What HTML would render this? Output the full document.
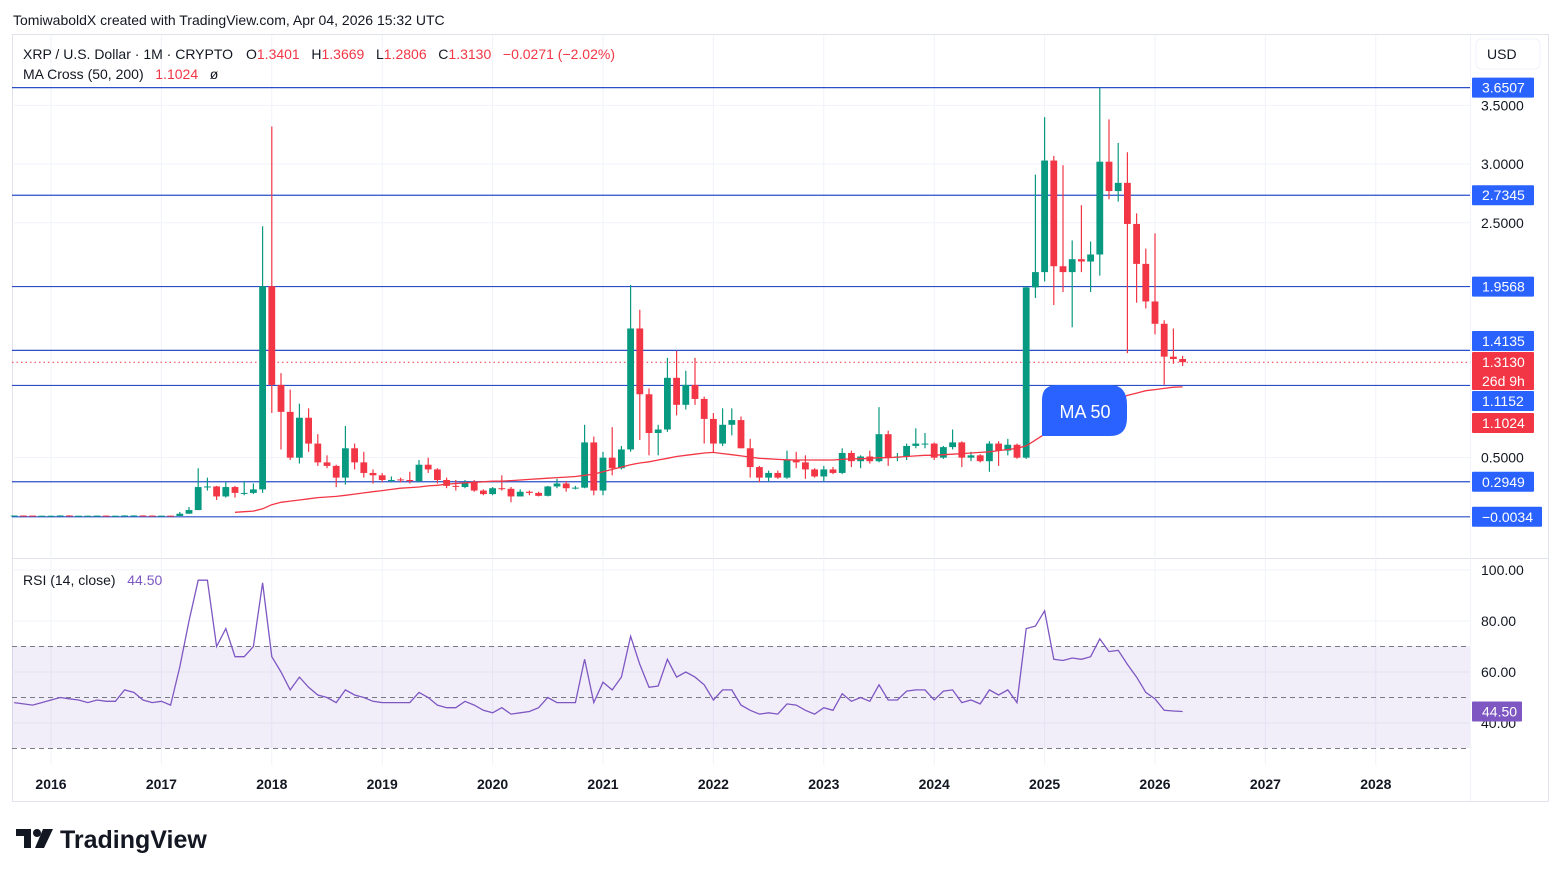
<!DOCTYPE html>
<html><head><meta charset="utf-8">
<style>
body{margin:0;background:#fff;font-family:"Liberation Sans",sans-serif;}
svg text{font-family:"Liberation Sans",sans-serif;white-space:pre;}
</style></head>
<body>
<svg id="chart" width="1561" height="877" viewBox="0 0 1561 877" xmlns="http://www.w3.org/2000/svg" xml:space="preserve">
<rect x="0" y="0" width="1561" height="877" fill="#fff"/>
<text x="13" y="25" font-size="14" fill="#131722">TomiwaboldX created with TradingView.com, Apr 04, 2026 15:32 UTC</text>
<rect x="12.5" y="34.5" width="1536" height="767" fill="none" stroke="#e0e3eb"/>
<line x1="12" y1="558.5" x2="1548" y2="558.5" stroke="#e0e3eb"/>
<line x1="1470.5" y1="35" x2="1470.5" y2="801" stroke="#f0f3fa"/>
<g id="grid"></g>
<rect x="12" y="646" width="1458" height="102" fill="#7e57c2" fill-opacity="0.1"/>
<g id="rsiguides"></g>
<g id="levels"></g>
<g id="candles"></g>
<path id="ma" fill="none" stroke="#f23645" stroke-width="1.3"/>
<path id="rsi" fill="none" stroke="#7e57c2" stroke-width="1.3"/>
<g id="axes"></g>
<g>
<text x="23" y="59" font-size="14" fill="#131722">XRP / U.S. Dollar · 1M · CRYPTO</text>
<text x="246" y="59" font-size="14" fill="#131722">O<tspan fill="#f23645">1.3401</tspan>   H<tspan fill="#f23645">1.3669</tspan>   L<tspan fill="#f23645">1.2806</tspan>   C<tspan fill="#f23645">1.3130   −0.0271 (−2.02%)</tspan></text>
<text x="23" y="79" font-size="14" fill="#131722">MA Cross (50, 200)   <tspan fill="#f23645">1.1024</tspan>   ø</text>
<text x="23" y="585" font-size="14" fill="#131722">RSI (14, close)   <tspan fill="#7e57c2">44.50</tspan></text>
</g>
<rect x="1476" y="39" width="64" height="30" rx="5" fill="#fff" stroke="#f0f3fa"/>
<text x="1487" y="59" font-size="14" fill="#131722">USD</text>
<g>
<path d="M1042 436 L1042 400 Q1042 385 1057 385 L1110 385 Q1127 385 1127 405 L1127 418 Q1127 436 1110 436 Z" fill="#2962ff"/>
<text x="1085" y="418" font-size="18" fill="#fff" text-anchor="middle">MA 50</text>
</g>
<g>
<path d="M16 829 h15 v19 h-7 v-12 h-8 z" fill="#131722"/>
<circle cx="37" cy="833" r="4" fill="#131722"/>
<path d="M43 829 h10 l-9 19 h-9 z" fill="#131722"/>
<text x="60" y="848" font-size="25" font-weight="bold" fill="#131722">TradingView</text>
</g>
</svg>
<script>
const firstMonth = -4; // months relative to Jan 2016
const opens  = [0.0075,0.0075,0.007,0.006,0.006,0.006,0.008,0.006,0.006,0.006,0.007,0.006,0.006,0.008,0.008,0.007,0.006,0.0064,0.0036,0.023,0.054,0.25,0.255,0.17,0.25,0.20,0.20,0.23,1.96,1.12,0.89,0.50,0.84,0.62,0.46,0.43,0.33,0.58,0.46,0.37,0.35,0.305,0.315,0.31,0.30,0.44,0.40,0.31,0.26,0.25,0.29,0.22,0.19,0.24,0.235,0.17,0.21,0.20,0.175,0.255,0.28,0.24,0.245,0.63,0.22,0.50,0.41,0.57,1.60,1.04,0.71,0.74,1.18,0.95,1.12,1.00,0.83,0.62,0.78,0.82,0.58,0.42,0.33,0.37,0.33,0.48,0.46,0.40,0.34,0.40,0.37,0.54,0.47,0.51,0.47,0.70,0.50,0.51,0.60,0.62,0.62,0.50,0.59,0.63,0.50,0.52,0.47,0.62,0.56,0.61,0.50,1.95,2.08,3.03,2.13,2.08,2.19,2.17,2.23,3.02,2.77,2.84,2.49,2.15,1.83,1.64,1.36,1.3401];
const highs  = [0.008,0.008,0.0075,0.007,0.007,0.009,0.009,0.007,0.007,0.008,0.008,0.007,0.009,0.009,0.009,0.008,0.007,0.007,0.038,0.08,0.41,0.33,0.26,0.29,0.26,0.30,0.28,2.47,3.32,1.22,1.08,0.96,0.92,0.70,0.52,0.44,0.77,0.62,0.55,0.40,0.37,0.34,0.33,0.38,0.48,0.50,0.41,0.33,0.31,0.31,0.31,0.23,0.25,0.35,0.25,0.23,0.22,0.21,0.26,0.32,0.30,0.26,0.78,0.68,0.55,0.76,0.60,1.97,1.76,1.09,0.78,1.35,1.41,1.24,1.35,1.02,0.88,0.92,0.92,0.85,0.66,0.43,0.39,0.39,0.56,0.55,0.52,0.41,0.43,0.42,0.58,0.56,0.52,0.56,0.93,0.73,0.54,0.62,0.75,0.71,0.63,0.60,0.74,0.64,0.55,0.53,0.64,0.64,0.66,0.62,1.96,2.91,3.40,3.07,2.99,2.35,2.65,2.34,3.65,3.38,3.18,3.10,2.58,2.28,2.41,1.67,1.60,1.3669];
const lows   = [0.007,0.0068,0.0058,0.0055,0.0055,0.0058,0.0058,0.0055,0.0055,0.0058,0.0058,0.0055,0.0058,0.0075,0.0068,0.0058,0.0058,0.0034,0.0035,0.022,0.053,0.22,0.14,0.16,0.16,0.18,0.19,0.20,0.88,0.57,0.48,0.45,0.55,0.43,0.41,0.25,0.27,0.40,0.33,0.28,0.29,0.29,0.29,0.28,0.29,0.37,0.28,0.24,0.22,0.24,0.21,0.18,0.18,0.22,0.12,0.17,0.18,0.17,0.17,0.24,0.21,0.23,0.24,0.18,0.18,0.35,0.40,0.55,0.65,0.52,0.52,0.72,0.86,0.91,0.95,0.62,0.54,0.60,0.69,0.58,0.33,0.29,0.30,0.32,0.32,0.41,0.32,0.33,0.30,0.36,0.36,0.42,0.41,0.45,0.46,0.43,0.47,0.48,0.58,0.58,0.48,0.49,0.57,0.42,0.47,0.46,0.38,0.43,0.52,0.49,0.49,1.86,2.00,1.80,1.91,1.61,2.08,1.91,2.05,2.70,2.68,1.39,1.82,1.77,1.55,1.12,1.30,1.2806];
const closes = [0.0075,0.007,0.006,0.006,0.006,0.008,0.006,0.006,0.006,0.007,0.006,0.006,0.008,0.008,0.007,0.006,0.0064,0.0036,0.023,0.054,0.25,0.255,0.17,0.25,0.20,0.20,0.23,1.96,1.12,0.89,0.50,0.84,0.62,0.46,0.43,0.33,0.58,0.46,0.37,0.35,0.31,0.31,0.31,0.30,0.44,0.40,0.31,0.26,0.255,0.29,0.22,0.19,0.24,0.235,0.17,0.21,0.20,0.175,0.255,0.28,0.24,0.245,0.63,0.22,0.50,0.41,0.57,1.60,1.04,0.71,0.74,1.18,0.95,1.12,1.00,0.83,0.62,0.78,0.82,0.58,0.42,0.33,0.37,0.33,0.48,0.46,0.40,0.34,0.40,0.37,0.54,0.47,0.51,0.47,0.70,0.50,0.51,0.60,0.62,0.62,0.50,0.59,0.63,0.50,0.52,0.47,0.62,0.56,0.61,0.50,1.95,2.08,3.03,2.13,2.08,2.19,2.17,2.23,3.02,2.77,2.84,2.49,2.15,1.83,1.64,1.36,1.34,1.3130];
const maFirstMonth = 20;
const ma50 = [0.035,0.04,0.045,0.065,0.10,0.12,0.13,0.14,0.15,0.16,0.165,0.17,0.18,0.19,0.20,0.21,0.22,0.23,0.24,0.245,0.25,0.26,0.265,0.275,0.28,0.285,0.29,0.295,0.30,0.30,0.305,0.31,0.315,0.32,0.325,0.33,0.335,0.34,0.35,0.36,0.38,0.40,0.42,0.44,0.455,0.465,0.48,0.495,0.51,0.52,0.53,0.54,0.545,0.535,0.525,0.515,0.505,0.495,0.49,0.485,0.482,0.48,0.48,0.48,0.48,0.48,0.485,0.49,0.49,0.495,0.50,0.50,0.505,0.51,0.515,0.52,0.52,0.525,0.53,0.535,0.54,0.545,0.55,0.56,0.57,0.58,0.60,0.65,0.70,0.75,0.80,0.83,0.86,0.89,0.93,0.97,1.00,1.03,1.05,1.07,1.08,1.09,1.10,1.1024];
const rsiValues = [48,47.5,47,48,49,50,49.5,49,48,49,48.5,48.5,53,52,49,48,48.5,47,62,80,96,96,70,77,66,66,70,95,66,60,53,58,54,51,50,48,53,51,50,48.5,48,48,48,48,52,50,47,46,46,48.5,47,45,44,46,43.5,44,44.5,46,50,48,48,48,65,48,56,53,58,74,63,54,54.5,65,58,60,58,55,49,53,53,47,45,43.5,44,43.5,47.5,47,45,43.5,46,45,51.5,48.5,50,48.5,55,49,49,52.5,53,53,49,52.5,53,48,49,47.5,53,51,53,48,77,78,84,65,64.5,65.5,65,66,73,68,68.5,63,58,52,49.5,45,44.7,44.5];
const levelPrices = [3.6507,2.7345,1.9568,1.4135,1.1152,0.2949,-0.0034];
const priceTicks = [3.5,3.0,2.5,0.5];
const rsiTicks = [100,80,60,40];
const yearLabels = ["2016","2017","2018","2019","2020","2021","2022","2023","2024","2025","2026","2027","2028"];

const NS="http://www.w3.org/2000/svg";
const xOf = m => 51 + 9.2*m;
const yP = p => 516.4 - 117.45*p;
const yR = r => 825 - 2.55*r;
function mk(tag, attrs, parent){const e=document.createElementNS(NS,tag);for(const k in attrs)e.setAttribute(k,attrs[k]);parent.appendChild(e);return e;}
const grid=document.getElementById('grid'), axes=document.getElementById('axes');
yearLabels.forEach((lab,i)=>{
  const x=xOf(i*12);
  const l=mk('line',{x1:x,y1:35,x2:x,y2:765,stroke:'#f0f3fa'},grid);
  
  
  const t=mk('text',{x:x,y:789,'font-size':14,'font-weight':'bold','text-anchor':'middle',fill:'#131722'},axes);
  t.textContent=lab;
  
  
});
priceTicks.forEach(p=>{
  const l=mk('line',{x1:12,y1:yP(p),x2:1470,y2:yP(p),stroke:'#f0f3fa'},grid);
  
  
  const t=mk('text',{x:1481,y:yP(p)+5,'font-size':14,fill:'#131722'},axes);
  t.textContent=p.toFixed(4);
  
  
});
rsiTicks.forEach(r=>{
  const l=mk('line',{x1:12,y1:yR(r),x2:1470,y2:yR(r),stroke:'#f0f3fa'},grid);
  
  
  const t=mk('text',{x:1481,y:yR(r)+5,'font-size':14,fill:'#131722'},axes);
  t.textContent=r.toFixed(2);
  
  
});
const rg=document.getElementById('rsiguides');
[70,50,30].forEach(r=>{
  const l=mk('line',{x1:12,y1:yR(r),x2:1470,y2:yR(r),stroke:'#787b86','stroke-dasharray':'5,4','stroke-width':1},rg);
  
  
});
const lv=document.getElementById('levels');
levelPrices.forEach(p=>{
  const l=mk('line',{x1:12,y1:yP(p),x2:1470,y2:yP(p),stroke:'#2a4fc9','stroke-width':1.2},lv);
  
  
});
const lastClose=closes[closes.length-1];
const dl=mk('line',{x1:12,y1:yP(lastClose),x2:1470,y2:yP(lastClose),stroke:'#f23645','stroke-dasharray':'1.5,3'},lv);


const cg=document.getElementById('candles');
closes.forEach((c,i)=>{
  const m=firstMonth+i, x=xOf(m), o=opens[i], h=highs[i], lo=lows[i];
  const col=c>=o?'#089981':'#f23645';
  const g=mk('g',{},cg);
  
  
  mk('line',{x1:x,y1:yP(h),x2:x,y2:yP(lo),stroke:col,'stroke-width':1.2},g);
  const top=Math.min(yP(o),yP(c)), bh=Math.max(1,Math.abs(yP(o)-yP(c)));
  mk('rect',{x:x-3.4,y:top,width:6.8,height:bh,fill:col},g);
});
let d='';
ma50.forEach((v,i)=>{d+=(i?'L':'M')+xOf(maFirstMonth+i).toFixed(1)+' '+yP(v).toFixed(1);});
document.getElementById('ma').setAttribute('d',d);
d='';
rsiValues.forEach((v,i)=>{d+=(i?'L':'M')+xOf(firstMonth+i).toFixed(1)+' '+yR(v).toFixed(1);});
document.getElementById('rsi').setAttribute('d',d);
function badge(y,text,fill,name,h,w,text2){
  const g=mk('g',{},axes);
  
  
  const hh=h||20;
  mk('rect',{x:1472,y:y-10,width:w||62,height:hh,fill:fill,rx:1},g);
  const t=mk('text',{x:1482,y:y+5,'font-size':14,fill:'#fff'},g);t.textContent=text;
  if(text2){const t2=mk('text',{x:1482,y:y+24,'font-size':14,fill:'#fff'},g);t2.textContent=text2;}
}
// axis label positions avoid overlap like TradingView
const labelY = p => {
  if (Math.abs(p-1.4135)<1e-6) return 341;
  if (Math.abs(p-1.1152)<1e-6) return 401;
  return yP(p);
};
levelPrices.forEach(p=>{
  const txt=(p<0?'−':'')+Math.abs(p).toFixed(4);
  badge(labelY(p),txt,'#2962ff','level-price-label',20,p<0?70:62);
});
badge(362,lastClose.toFixed(4),'#f23645','last-price-label',38,62,'26d 9h');
const lastMa=ma50[ma50.length-1];
badge(423,lastMa.toFixed(4),'#f23645','ma-price-label',20,62);
const rl=rsiValues[rsiValues.length-1];
badge(yR(rl),rl.toFixed(2),'#7e57c2','rsi-value-label',20,50);
</script>
</body></html>
